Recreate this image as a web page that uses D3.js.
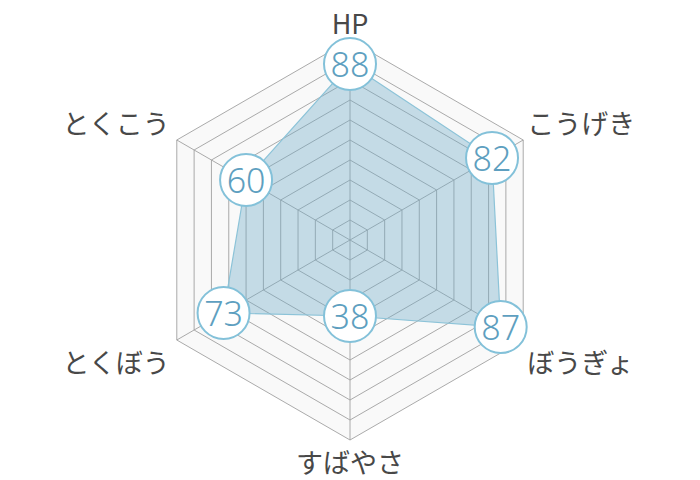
<!DOCTYPE html>
<html>
<head>
<meta charset="utf-8">
<script src="https://cdn.jsdelivr.net/npm/d3@7"></script>
<style>
  html, body { margin: 0; padding: 0; background: #fff; }
  svg { display: block; }
</style>
</head>
<body>
<svg id="chart" width="700" height="480"></svg>
<script>
const categories = ["HP", "こうげき", "ぼうぎょ", "すばやさ", "とくぼう", "とくこう"];
const values = [88, 82, 87, 38, 73, 60];
const gridLevels = [10, 20, 30, 40, 50, 60, 70, 80, 90, 100];

const W = 700, H = 480;
const cx = 350, cy = 240;
const svg = d3.select("#chart");

const r = d3.scaleLinear().domain([0, 100]).range([0, 200]);
const angle = d3.scaleLinear().domain([0, categories.length]).range([0, 2 * Math.PI]);

function pt(i, v) {
  const a = angle(i);
  return [cx + Math.sin(a) * r(v), cy - Math.cos(a) * r(v)];
}

const line = d3.line().curve(d3.curveLinearClosed);

const g = svg.append("g");

// background of outer hexagon
g.append("path")
  .attr("d", line(categories.map((c, i) => pt(i, 100))))
  .attr("fill", "#f9f9f9")
  .attr("stroke", "none");

// grid rings
g.selectAll("path.ring").data(gridLevels).enter().append("path")
  .attr("class", "ring")
  .attr("d", lv => line(categories.map((c, i) => pt(i, lv))))
  .attr("fill", "none")
  .attr("stroke", "#a0a0a0")
  .attr("stroke-width", 0.9);

// spokes
g.selectAll("line.spoke").data(categories).enter().append("line")
  .attr("class", "spoke")
  .attr("x1", cx).attr("y1", cy)
  .attr("x2", (c, i) => pt(i, 100)[0])
  .attr("y2", (c, i) => pt(i, 100)[1])
  .attr("stroke", "#a0a0a0")
  .attr("stroke-width", 0.9);

// data polygon
g.append("path")
  .attr("d", line(values.map((v, i) => pt(i, v))))
  .attr("fill", "rgba(110,170,200,0.38)")
  .attr("stroke", "#8cc3d8")
  .attr("stroke-width", 1.2);

// axis labels
g.selectAll("text.cat").data(categories).enter().append("text")
  .attr("class", "cat")
  .attr("x", (c, i) => {
    const s = Math.sin(angle(i));
    const p = pt(i, 100);
    return p[0] + (s > 0.1 ? 4 : s < -0.1 ? -7 : 0);
  })
  .attr("y", (c, i) => {
    const co = Math.cos(angle(i));
    const p = pt(i, 100);
    return p[1] + (co > 0 ? -18 : 21);
  })
  .attr("text-anchor", (c, i) => {
    const s = Math.sin(angle(i));
    return s > 0.1 ? "start" : s < -0.1 ? "end" : "middle";
  })
  .attr("dominant-baseline", "central")
  .attr("font-family", "'Noto Sans CJK JP', 'Noto Sans', sans-serif")
  .attr("font-weight", 400)
  .attr("font-size", 27)
  .attr("fill", "#484848")
  .text(c => c);

// value bubbles
const bub = g.selectAll("g.bub").data(values).enter().append("g")
  .attr("class", "bub")
  .attr("transform", (v, i) => `translate(${pt(i, v)[0]},${pt(i, v)[1]})`);

bub.append("circle")
  .attr("r", 26)
  .attr("fill", "#fff")
  .attr("stroke", "#83c1d9")
  .attr("stroke-width", 2);

bub.append("text")
  .attr("text-anchor", "middle")
  .attr("dominant-baseline", "central")
  .attr("font-family", "'Noto Sans', 'Noto Sans CJK JP', sans-serif")
  .attr("font-weight", 300)
  .attr("font-size", 34)
  .attr("fill", "#5e9fc0")
  .text(v => v);
</script>
</body>
</html>
